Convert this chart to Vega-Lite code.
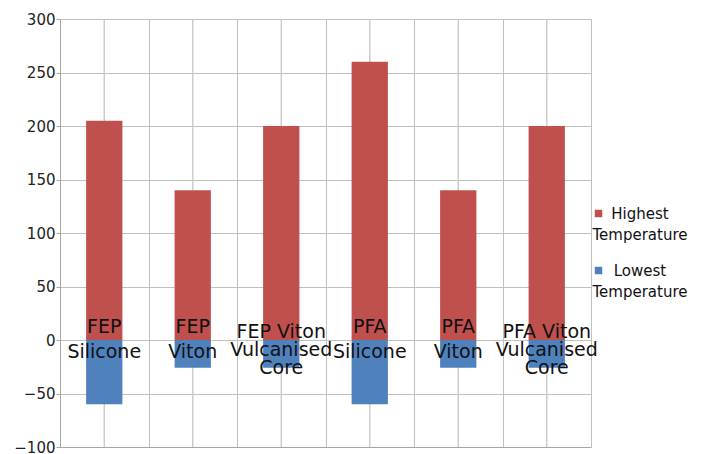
{
  "$schema": "https://vega.github.io/schema/vega-lite/v6.json",
  "width": 531,
  "height": 428,
  "autosize": {"type": "none"},
  "padding": {"left": 60, "top": 19, "right": 114, "bottom": 7},
  "background": "white",
  "config": {"view": {"stroke": null}, "font": "DejaVu Sans"},
  "data": {
    "values": [
      {"category": "FEP Silicone", "lines": ["FEP", "Silicone"], "series": "Highest Temperature", "value": 205},
      {"category": "FEP Silicone", "lines": ["FEP", "Silicone"], "series": "Lowest Temperature", "value": -60},
      {"category": "FEP Viton", "lines": ["FEP", "Viton"], "series": "Highest Temperature", "value": 140},
      {"category": "FEP Viton", "lines": ["FEP", "Viton"], "series": "Lowest Temperature", "value": -26},
      {"category": "FEP Viton Vulcanised Core", "lines": ["FEP Viton", "Vulcanised", "Core"], "series": "Highest Temperature", "value": 200},
      {"category": "FEP Viton Vulcanised Core", "lines": ["FEP Viton", "Vulcanised", "Core"], "series": "Lowest Temperature", "value": -26},
      {"category": "PFA Silicone", "lines": ["PFA", "Silicone"], "series": "Highest Temperature", "value": 260},
      {"category": "PFA Silicone", "lines": ["PFA", "Silicone"], "series": "Lowest Temperature", "value": -60},
      {"category": "PFA Viton", "lines": ["PFA", "Viton"], "series": "Highest Temperature", "value": 140},
      {"category": "PFA Viton", "lines": ["PFA", "Viton"], "series": "Lowest Temperature", "value": -26},
      {"category": "PFA Viton Vulcanised Core", "lines": ["PFA Viton", "Vulcanised", "Core"], "series": "Highest Temperature", "value": 200},
      {"category": "PFA Viton Vulcanised Core", "lines": ["PFA Viton", "Vulcanised", "Core"], "series": "Lowest Temperature", "value": -26}
    ]
  },
  "encoding": {
    "x": {
      "field": "category",
      "type": "nominal",
      "sort": null,
      "scale": {"paddingInner": 0, "paddingOuter": 0},
      "axis": {
        "title": null,
        "labels": false,
        "ticks": false,
        "grid": true,
        "gridColor": "#c0c0c0",
        "tickBand": "extent",
        "domainColor": "#a6a6a6"
      }
    }
  },
  "layer": [
    {
      "mark": {"type": "rule", "color": "#c8c8c8", "strokeWidth": 1},
      "encoding": {}
    },
    {
      "mark": {"type": "bar", "width": {"band": 0.41}},
      "encoding": {
        "y": {
          "field": "value",
          "type": "quantitative",
          "scale": {"domain": [-100, 300], "nice": false},
          "axis": {
            "title": null,
            "values": [-100, -50, 0, 50, 100, 150, 200, 250, 300],
            "grid": true,
            "gridColor": "#c0c0c0",
            "tickColor": "#a6a6a6",
            "tickSize": 4,
            "domainColor": "#a6a6a6",
            "labelFontSize": 15,
            "labelColor": "#222222",
            "labelPadding": 1
          }
        },
        "color": {
          "field": "series",
          "type": "nominal",
          "scale": {"domain": ["Highest Temperature", "Lowest Temperature"], "range": ["#C0504D", "#4F81BD"]},
          "legend": {
            "title": null,
            "orient": "none",
            "legendX": 531,
            "legendY": 187,
            "symbolType": "square",
            "symbolSize": 56,
            "symbolStrokeWidth": 0,
            "labelExpr": "split(datum.label, ' ')",
            "labelFontSize": 15,
            "labelColor": "#111111",
            "labelAlign": "center",
            "labelOffset": 34,
            "labelBaseline": "middle",
            "rowPadding": 20,
            "encode": {"labels": {"update": {"lineHeight": {"value": 21}}}}
          }
        }
      }
    },
    {
      "transform": [{"filter": "datum.series == 'Highest Temperature' && length(datum.lines) == 2"}],
      "mark": {"type": "text", "baseline": "middle", "lineHeight": 25, "dy": -13, "fontSize": 19, "color": "#111111"},
      "encoding": {"y": {"datum": 0}, "text": {"field": "lines"}}
    },
    {
      "transform": [{"filter": "datum.series == 'Highest Temperature' && length(datum.lines) == 3"}],
      "mark": {"type": "text", "baseline": "middle", "lineHeight": 18, "dy": -8, "fontSize": 19, "color": "#111111"},
      "encoding": {"y": {"datum": 0}, "text": {"field": "lines"}}
    }
  ]
}
